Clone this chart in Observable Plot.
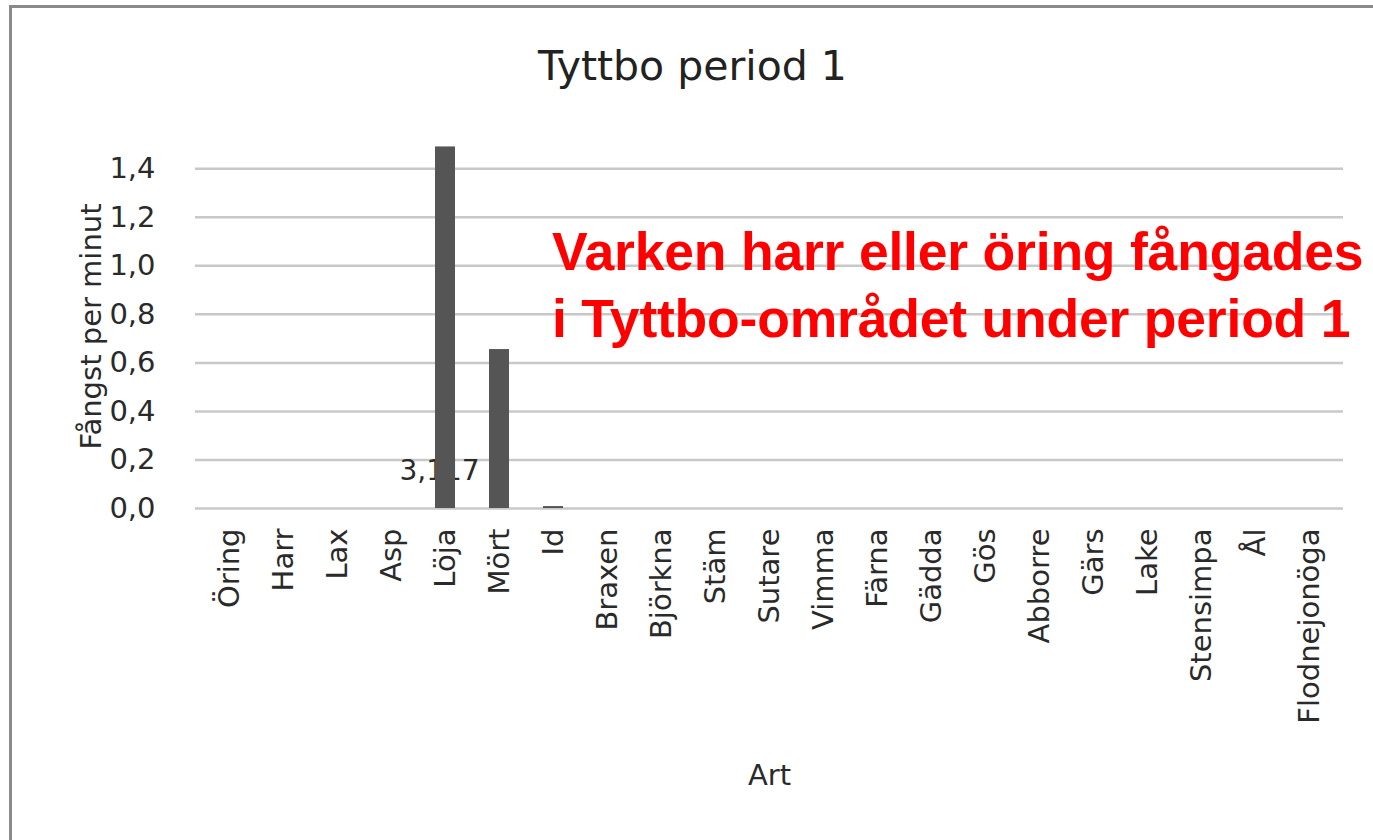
<!DOCTYPE html>
<html><head><meta charset="utf-8">
<script src="https://cdn.jsdelivr.net/npm/d3@7"></script>
<script src="https://cdn.jsdelivr.net/npm/@observablehq/plot@0.6"></script>
<style>
body{margin:0;background:#fff;}
#wrap{position:relative;width:1373px;height:840px;overflow:hidden;background:#fff;}
#frame{position:absolute;left:9px;top:5px;width:1400px;height:900px;border-left:3px solid #8a8a8a;border-top:3px solid #8a8a8a;}
#title{position:absolute;left:0;width:1385px;top:42px;text-align:center;font-family:"DejaVu Sans",sans-serif;font-size:41px;color:#222;}
#note{position:absolute;left:552px;top:218px;font-family:"Liberation Sans",Arial,sans-serif;font-weight:bold;font-size:53.5px;line-height:67px;color:#ff0000;white-space:nowrap;letter-spacing:-0.2px;}
#chart{position:absolute;left:0;top:0;}
</style></head>
<body><div id="wrap"><div id="frame"></div><div id="chart"></div><div id="title">Tyttbo period 1</div>
<div id="note">Varken harr eller öring fångades<br>i Tyttbo-området under period 1</div></div>
<script>
const species = ["Öring","Harr","Lax","Asp","Löja","Mört","Id","Braxen","Björkna","Stäm","Sutare","Vimma","Färna","Gädda","Gös","Abborre","Gärs","Lake","Stensimpa","Ål","Flodnejonöga"];
const catchPerMinute = [0,0,0,0,1.49,0.655,0.008,0,0,0,0,0,0,0,0,0,0,0,0,0,0];
const yTicks = [0,0.2,0.4,0.6,0.8,1.0,1.2,1.4];
const dataLabels = [{art:"Löja", value:0.155, text:"3,117"}];

const data = species.map((s,i)=>({art:s, value:catchPerMinute[i]}));
const font = '"DejaVu Sans",sans-serif';
const chart = Plot.plot({
  width:1373, height:840,
  marginLeft:195, marginRight:30, marginTop:144, marginBottom:332,
  style:{fontFamily:font, fontSize:"29px", color:"#2a2a2a", background:"transparent"},
  x:{type:"band", domain:species, paddingInner:0.63, paddingOuter:0.315, label:"Art", labelArrow:"none", labelAnchor:"center", labelOffset:276, tickRotate:-90, tickSize:0, tickPadding:20},
  y:{domain:[0,1.5], ticks:yTicks, tickFormat:d=>d.toFixed(1).replace(".",","), label:"Fångst per minut", labelArrow:"none", labelAnchor:"center", labelOffset:115, tickSize:0, tickPadding:40},
  marks:[
    Plot.gridY(yTicks, {stroke:"#c8c8c8", strokeOpacity:1, strokeWidth:2.5}),
    Plot.ruleX([0], {frameAnchor:"left", stroke:"#c8c8c8", strokeWidth:2}),
    Plot.text(dataLabels, {x:"art", y:"value", text:"text", dx:-6, fill:"#2a2a2a", fontSize:28}),
    Plot.barY(data, {x:"art", y:"value", fill:"#555555"}),
  ]
});
document.getElementById("chart").appendChild(chart);
</script></body></html>
